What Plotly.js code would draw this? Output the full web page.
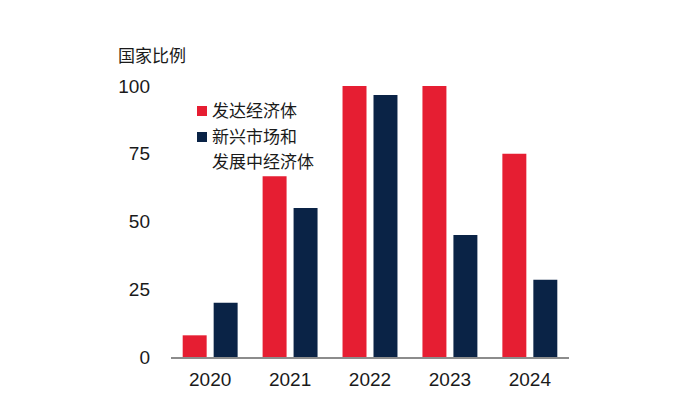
<!DOCTYPE html>
<html>
<head>
<meta charset="utf-8">
<script src="https://cdn.plot.ly/plotly-3.0.1.min.js"></script>
<style>html,body{margin:0;padding:0;background:#fff;}#chart{width:690px;height:418px;}</style>
</head>
<body>
<div id="chart"></div>
<script>
const years = ['2020', '2021', '2022', '2023', '2024'];
const advanced = [8, 66.7, 100, 100, 75];
const emerging = [20, 55, 96.7, 45, 28.5];
const seriesNames = ['发达经济体', '新兴市场和<br>发展中经济体'];
const seriesColors = ['#E61E32', '#0A2346'];
const yTicks = [0, 25, 50, 75, 100];
const yTitle = '国家比例';

const cjk = '"Liberation Sans", Arial, "Noto Sans CJK SC", sans-serif';

const traces = [advanced, emerging].map((vals, i) => ({
  type: 'bar', x: years, y: vals, name: seriesNames[i],
  marker: {color: seriesColors[i], line: {width: 0}},
  showlegend: false, hoverinfo: 'x+y'
}));

// plot area in pixels: left 171, right 569, top 86, bottom 357
const L = 171, R = 569, T = 86, B = 357;
const px = x => (x - L) / (R - L);
const py = y => (B - y) / (B - T);

const annotations = [{
  text: yTitle, xref: 'paper', yref: 'paper', x: px(116), y: py(57),
  xanchor: 'left', yanchor: 'middle', showarrow: false,
  font: {family: cjk, size: 17, color: '#1a1a1a'}
}];
const shapes = [];
const legendRows = [111, 137];
seriesNames.forEach((n, i) => {
  const cy = legendRows[i];
  shapes.push({type: 'rect', xref: 'paper', yref: 'paper',
    x0: px(197), x1: px(207), y0: py(cy - 5), y1: py(cy + 5),
    fillcolor: seriesColors[i], line: {width: 0}});
  n.split('<br>').forEach((line, j) => {
    annotations.push({text: line, xref: 'paper', yref: 'paper',
      x: px(210), y: py(cy + j * 25), xanchor: 'left', yanchor: 'middle',
      showarrow: false, font: {family: cjk, size: 17, color: '#1a1a1a'}});
  });
});

const layout = {
  width: 690, height: 418,
  margin: {l: L, r: 690 - R, t: T, b: 418 - B, pad: 0},
  paper_bgcolor: '#fff', plot_bgcolor: '#fff',
  barmode: 'group', bargap: 0.225, bargroupgap: 0.226,
  font: {family: cjk, size: 19, color: '#1a1a1a'},
  xaxis: {type: 'category', range: [-0.49, 4.49], showgrid: false, zeroline: false,
    showline: true, linecolor: '#8c8c8c', linewidth: 1.5, ticks: '',
    tickfont: {size: 19}, ticklabelstandoff: 5},
  yaxis: {range: [0, 100], tickvals: yTicks, showgrid: false, zeroline: false,
    showline: false, ticks: '', tickfont: {size: 19}, ticklabelstandoff: 20},
  annotations: annotations, shapes: shapes
};

Plotly.newPlot('chart', traces, layout, {displayModeBar: false, staticPlot: true});
</script>
</body>
</html>
